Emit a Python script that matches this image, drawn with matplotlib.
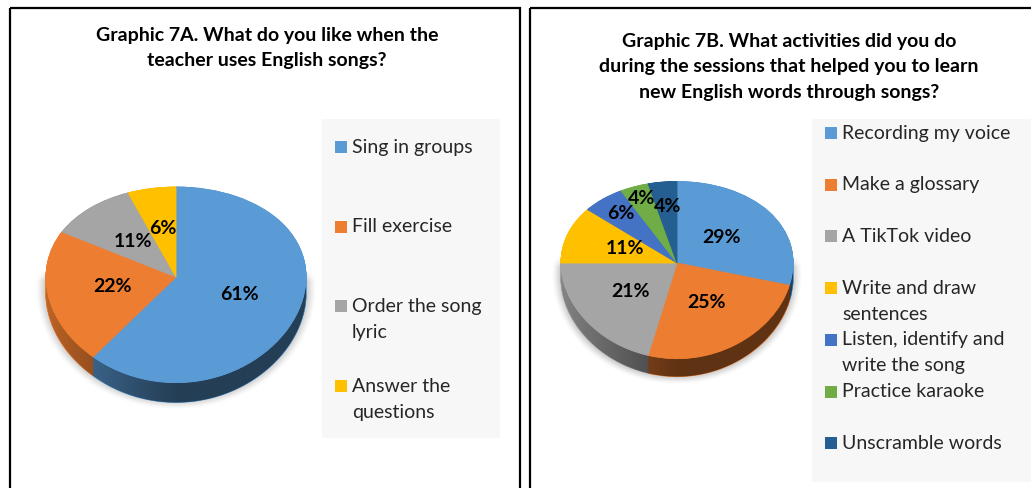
import numpy as np
import matplotlib
matplotlib.use('Agg')
import matplotlib.pyplot as plt
from matplotlib.patches import Rectangle, Polygon

plt.rcParams['font.family'] = ['Lato', 'DejaVu Sans']

W, H = 1031, 488

# Graphic 7A
likes_title = ['Graphic 7A. What do you like when the', 'teacher uses English songs?']
likes_labels = ['Sing in groups', 'Fill exercise', 'Order the song\nlyric', 'Answer the\nquestions']
likes_values = [61, 22, 11, 6]

# Graphic 7B
activities_title = ['Graphic 7B. What activities did you do',
                    'during the sessions that helped you to learn',
                    'new English words through songs?']
activities_labels = ['Recording my voice', 'Make a glossary', 'A TikTok video',
                     'Write and draw\nsentences', 'Listen, identify and\nwrite the song',
                     'Practice karaoke', 'Unscramble words']
activities_values = [29, 25, 21, 11, 6, 4, 4]

office_colors = ['#5B9BD5', '#ED7D31', '#A5A5A5', '#FFC000', '#4472C4', '#70AD47', '#255E91']

PERSPECTIVE = 0.08   # front of the disc looks a bit bigger than the back
DEPTH = 0.17         # thickness of the pie, in pie units
FONT = 14
LINE = 26            # pixels between two text lines


def tilt(v):
    return v / (1 + PERSPECTIVE * v)


def untilt(u):
    return u / (1 - PERSPECTIVE * u)


def draw_shadow(ax, cx, cy, rx, ry):
    '''
    Soft grey shadow under the pie, drawn in pixel coordinates.
    '''
    x0, x1 = int(cx - rx * 1.3), int(cx + rx * 1.3)
    y0, y1 = int(cy - 10), int(cy + ry * 1.6)
    xs = np.arange(x0, x1) + 0.5
    ys = np.arange(y0, y1) + 0.5
    gx, gy = np.meshgrid(xs, ys)
    r = np.sqrt(((gx - cx) / rx) ** 2 + ((gy - cy - 12) / (ry * 1.15)) ** 2)
    t = np.clip((1.09 - r) / 0.14, 0, 1) * np.clip((gy - y0) / 14, 0, 1)
    img = np.zeros(gx.shape + (4,))
    img[..., 3] = 0.3 * t * t * (3 - 2 * t)
    ax.imshow(img, extent=(x0, x1, y1, y0), origin='upper', aspect='auto', zorder=1)


def draw_pie(fig, values, cx, cy, rx, ry, label_r):
    '''
    Tilted 3D-looking pie with its apex at pixel (cx, cy).
    '''
    xl, xr, yb, yt = -1.2, 1.2, -1.5, 1.2
    left = (cx + xl * rx) / W
    bottom = (H - cy + tilt(yb) * ry) / H
    ax = fig.add_axes([left, bottom, (xr - xl) * rx / W, (tilt(yt) - tilt(yb)) * ry / H])
    ax.set_yscale('function', functions=(tilt, untilt))

    colors = office_colors[:len(values)]
    pie_kw = dict(colors=colors, startangle=90, counterclock=False, frame=False,
                  wedgeprops={'linewidth': 0.6})

    # side wall: the same pie stacked downwards
    for d in np.linspace(DEPTH, 0, 40):
        wedges, _ = ax.pie(values, center=(0, -d), **pie_kw)
        for w in wedges:
            w.set_edgecolor(w.get_facecolor())
            w.set_zorder(1)

    # darker to the right
    t = np.linspace(np.pi, 2 * np.pi, 200)
    band = np.concatenate([np.column_stack([np.cos(t), np.sin(t)]),
                           np.column_stack([np.cos(t[::-1]), np.sin(t[::-1]) - DEPTH])])
    band_patch = Polygon(band, closed=True, transform=ax.transData)
    xs = np.linspace(-1, 1, 256)
    shade = np.zeros((1, 256, 4))
    shade[0, :, 3] = 0.18 + 0.42 * np.clip(xs + 1, 0, 1) ** 0.8
    img = ax.imshow(shade, extent=(-1.02, 1.02, -1 - DEPTH - 0.05, 0.05),
                    aspect='auto', zorder=2, interpolation='bilinear')
    img.set_clip_path(band_patch)

    # top face with the percentages
    wedges, _, pcts = ax.pie(values, autopct=lambda p: f'{p:.0f}%', pctdistance=0.5,
                             textprops=dict(fontsize=FONT, fontweight='bold', color='black'),
                             **pie_kw)
    for w in wedges:
        w.set_edgecolor(w.get_facecolor())
        w.set_zorder(3)
    for txt, r in zip(pcts, label_r):
        x, y = txt.get_position()
        txt.set_position((x * r / 0.5, y * r / 0.5))
        txt.set_zorder(4)

    ax.set_aspect('auto')
    ax.set_xlim(xl, xr)
    ax.set_ylim(yb, yt)
    ax.axis('off')
    return ax


def draw_legend(ax, labels, x0, y0, x1, y1, first, step):
    ax.add_patch(Rectangle((x0, y0), x1 - x0, y1 - y0, facecolor='#f7f7f7', edgecolor='none', zorder=1))
    for i, label in enumerate(labels):
        y = first + i * step
        ax.add_patch(Rectangle((x0 + 13, y - 6), 12, 12, facecolor=office_colors[i], edgecolor='none', zorder=2))
        for j, line in enumerate(label.split('\n')):
            ax.text(x0 + 30, y + j * LINE, line, fontsize=FONT, color='#262626',
                    ha='left', va='center', zorder=3)


def draw_title(ax, lines, x, y):
    for j, line in enumerate(lines):
        ax.text(x, y + j * 25.6, line, fontsize=FONT, fontweight='bold', color='black',
                ha='center', va='center', zorder=3)


fig = plt.figure(figsize=(W / 100, H / 100), dpi=100)
base = fig.add_axes([0, 0, 1, 1])

# panel frames
base.add_patch(Rectangle((10, 8), 510, 520, facecolor='none', edgecolor='black', linewidth=1.6, zorder=5))
base.add_patch(Rectangle((530, 8), 560, 520, facecolor='none', edgecolor='black', linewidth=1.6, zorder=5))

draw_title(base, likes_title, 267, 35)
draw_title(base, activities_title, 789, 41)

draw_legend(base, likes_labels, 322, 119, 500, 438, 147, 79.7)
draw_legend(base, activities_labels, 812, 119, 1040, 482, 133, 51.7)

draw_shadow(base, 176, 277, 130, 97)
draw_shadow(base, 677, 263, 116, 88)

base.set_xlim(0, W)
base.set_ylim(H, 0)
base.axis('off')

draw_pie(fig, likes_values, 176, 277, 130, 97.2, [0.52, 0.5, 0.5, 0.53])
draw_pie(fig, activities_values, 677, 263, 116, 88, [0.49, 0.5, 0.51, 0.48, 0.76, 0.84, 0.68])

fig.savefig('out.png', dpi=100)
